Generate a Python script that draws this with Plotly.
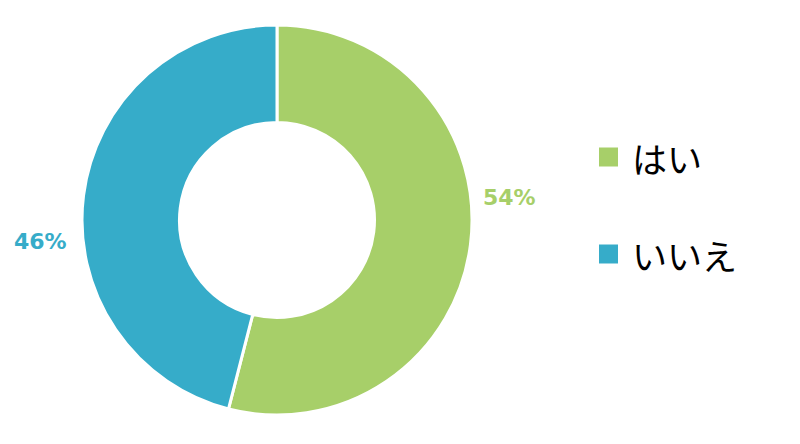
import plotly.graph_objects as go

categories = ["はい", "いいえ"]
values = [54, 46]
colors = ["#A7CF69", "#36ACC9"]
label_pos = [(510, 197), (40, 241)]   # pixel centers of percent labels
legend_y = [157, 254]                 # pixel centers of legend rows

W, H = 800, 444
cx, cy, r = 277, 220, 195

fig = go.Figure(go.Pie(
    labels=categories, values=values, hole=0.5, sort=False,
    direction="clockwise", rotation=0,
    marker=dict(colors=colors, line=dict(color="white", width=3)),
    textinfo="none", hoverinfo="label+percent", showlegend=False,
    domain=dict(x=[(cx - r) / W, (cx + r) / W], y=[(H - cy - r) / H, (H - cy + r) / H]),
))

total = sum(values)
annotations = []
shapes = []
for i, (cat, v, col) in enumerate(zip(categories, values, colors)):
    px, py = label_pos[i]
    annotations.append(dict(
        x=px / W, y=1 - py / H, xref="paper", yref="paper", showarrow=False,
        text=f"<b>{round(100 * v / total)}%</b>",
        font=dict(family="DejaVu Sans", size=22, color=col),
        xanchor="center", yanchor="middle"))
    ly = legend_y[i]
    shapes.append(dict(type="rect", xref="paper", yref="paper",
                       x0=599 / W, x1=618 / W, y0=1 - (ly + 9.5) / H, y1=1 - (ly - 9.5) / H,
                       fillcolor=col, line=dict(width=0)))
    annotations.append(dict(
        x=630 / W, y=1 - ly / H, xref="paper", yref="paper", showarrow=False,
        text=cat, font=dict(family="Noto Sans CJK JP", size=35, color="black"),
        xanchor="left", yanchor="middle"))

fig.update_layout(width=W, height=H, margin=dict(l=0, r=0, t=0, b=0),
                  paper_bgcolor="white", plot_bgcolor="white",
                  annotations=annotations, shapes=shapes)
fig.write_html("out.html", config={"displayModeBar": False},
               post_script="document.body.style.margin='0';")
